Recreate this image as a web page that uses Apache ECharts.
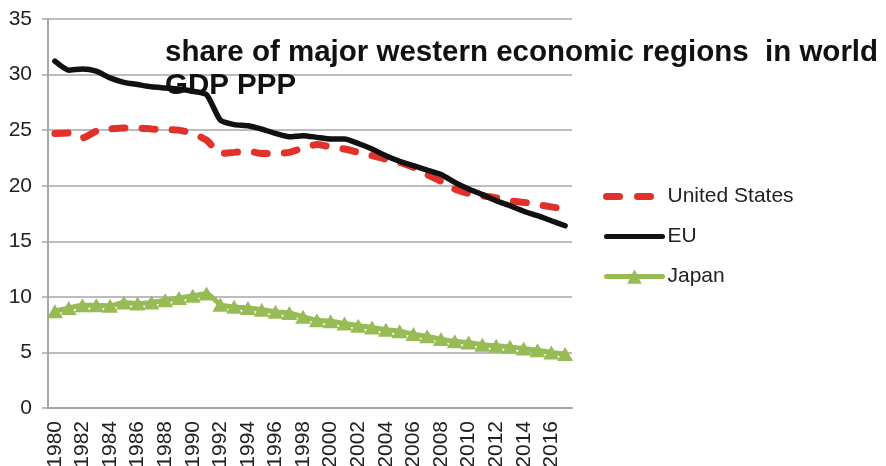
<!DOCTYPE html>
<html>
<head>
<meta charset="utf-8">
<script src="https://cdn.jsdelivr.net/npm/echarts@6/dist/echarts.min.js"></script>
<style>
  html, body { margin: 0; padding: 0; background: #fff; }
  #chart { width: 886px; height: 466px; }
</style>
</head>
<body>
<div id="chart"></div>
<script>
const years = [];
for (let y = 1980; y <= 2017; y++) years.push(String(y));

const usShare = [24.7, 24.75, 24.3, 24.9, 25.1, 25.2, 25.2, 25.1, 25.05, 25.0, 24.7, 24.1,
  22.9, 23.0, 23.1, 22.9, 22.9, 23.0, 23.4, 23.7, 23.5, 23.3, 23.0, 22.7, 22.4, 22.1,
  21.65, 21.0, 20.4, 19.7, 19.3, 19.1, 18.9, 18.65, 18.5, 18.3, 18.1, 17.9];

const euShare = [31.2, 30.4, 30.5, 30.3, 29.7, 29.3, 29.1, 28.9, 28.8, 28.7, 28.5, 28.2,
  25.9, 25.5, 25.4, 25.1, 24.7, 24.4, 24.5, 24.35, 24.2, 24.2, 23.8, 23.3, 22.7, 22.2,
  21.8, 21.4, 21.0, 20.3, 19.7, 19.2, 18.65, 18.2, 17.7, 17.3, 16.85, 16.4];

const japanShare = [8.7, 9.0, 9.25, 9.25, 9.2, 9.5, 9.4, 9.5, 9.7, 9.9, 10.1, 10.3,
  9.3, 9.1, 9.0, 8.85, 8.65, 8.55, 8.2, 7.9, 7.8, 7.6, 7.4, 7.25, 7.05, 6.9,
  6.65, 6.45, 6.2, 6.0, 5.9, 5.7, 5.6, 5.5, 5.35, 5.2, 5.0, 4.85];

const chart = echarts.init(document.getElementById("chart"));
const font = "Liberation Sans";
const gray = "#a6a6a6";
const red = "#e2312a";
const black = "#111111";
const green = "#97bb55";

chart.setOption({
  backgroundColor: "#fff",
  animation: false,
  textStyle: { fontFamily: font },
  title: {
    text: "share of major western economic regions  in world\nGDP PPP",
    left: 165,
    top: 36,
    padding: 0,
    textStyle: {
      fontFamily: font,
      fontSize: 29.5,
      fontWeight: "bold",
      color: "#111",
      lineHeight: 33
    }
  },
  legend: {
    orient: "vertical",
    left: 603,
    top: 186,
    padding: 0,
    itemWidth: 56,
    itemHeight: 18,
    itemGap: 19,
    textStyle: { fontFamily: font, fontSize: 21, color: "#222" },
    data: [
      {
        name: "United States",
        itemStyle: { opacity: 0 },
        lineStyle: { color: red, width: 7, type: [13, 18], cap: "round" }
      },
      {
        name: "EU",
        itemStyle: { opacity: 0 },
        lineStyle: { color: black, width: 5, cap: "round" }
      },
      {
        name: "Japan",
        lineStyle: { color: green, width: 5, cap: "round" }
      }
    ]
  },
  grid: { left: 48, right: 314, top: 19, bottom: 58, outerBoundsMode: "none" },
  xAxis: {
    type: "category",
    data: years,
    boundaryGap: true,
    axisLine: { lineStyle: { color: gray, width: 2 } },
    axisTick: { interval: 0, length: 6, lineStyle: { color: gray, width: 1.5 } },
    axisLabel: {
      interval: 1,
      rotate: 90,
      margin: 13,
      fontFamily: font,
      fontSize: 21,
      color: "#222"
    },
    splitLine: { show: false }
  },
  yAxis: {
    type: "value",
    min: 0,
    max: 35,
    interval: 5,
    axisLine: { show: true, lineStyle: { color: gray, width: 2 } },
    axisTick: { show: true, length: 6, lineStyle: { color: gray, width: 1.5 } },
    axisLabel: { margin: 16, fontFamily: font, fontSize: 21, color: "#222" },
    splitLine: { lineStyle: { color: gray, width: 1.5 } }
  },
  series: [
    {
      name: "United States",
      type: "line",
      data: usShare,
      symbol: "none",
      smooth: 0.2,
      color: red,
      lineStyle: { color: red, width: 7, type: [13, 17], cap: "round" }
    },
    {
      name: "EU",
      type: "line",
      data: euShare,
      symbol: "none",
      smooth: 0.2,
      color: black,
      lineStyle: { color: black, width: 5.5, cap: "round" }
    },
    {
      name: "Japan",
      type: "line",
      data: japanShare,
      symbol: "triangle",
      symbolSize: [16, 14],
      showAllSymbol: true,
      smooth: 0.2,
      color: green,
      itemStyle: { color: green },
      lineStyle: { color: green, width: 5 }
    }
  ]
});
</script>
</body>
</html>
